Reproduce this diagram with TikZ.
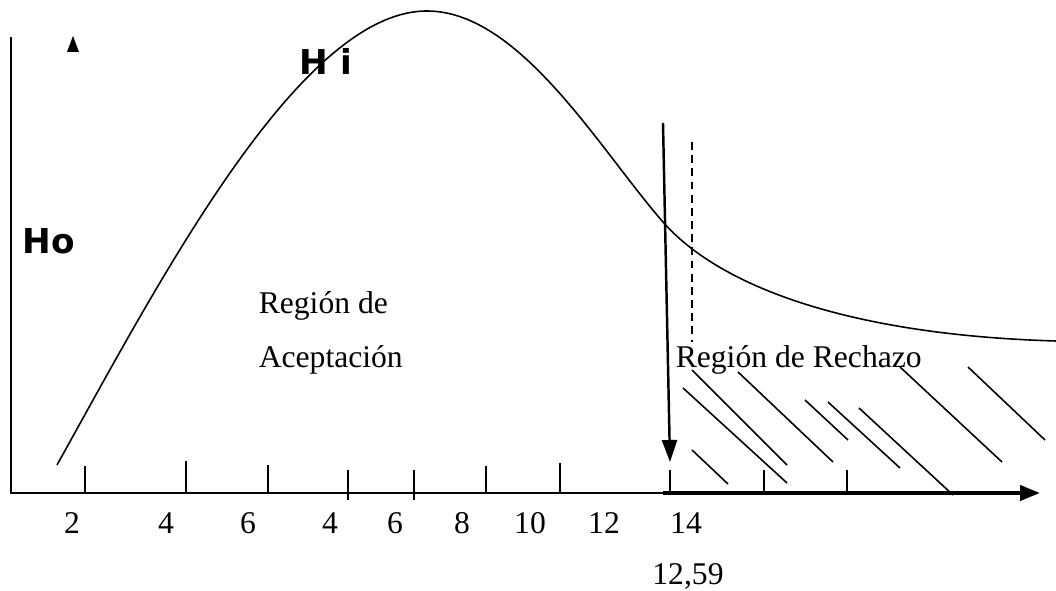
\documentclass[tikz,border=0pt]{standalone}
\usepackage{fontspec}
\setmainfont{Liberation Serif}
\newfontfamily\hypfont{DejaVu Sans}
\usetikzlibrary{arrows.meta}

\begin{document}
\begin{tikzpicture}[x=0.02cm, y=-0.02cm, line width=0.9pt,
  lbl/.style={font=\fontsize{18}{22}\selectfont, inner sep=0pt},
  hyp/.style={font=\hypfont\bfseries\fontsize{19.5}{23}\selectfont, inner sep=0pt}]
\useasboundingbox (0,0) rectangle (1056,591);
% axes
\draw (11,37) -- (11,493) -- (665,493);
\draw[line width=2.3pt, -{Triangle[length=0.4cm, width=0.3cm]}] (663,493) -- (1040,493);
\fill (73,36) -- (67,52) -- (79,52) -- cycle;
% ticks
\draw (85,466) -- (85,493);
\draw (186,461) -- (186,493);
\draw (268,465) -- (268,493);
\draw (348,470) -- (348,500);
\draw (414,470) -- (414,500);
\draw (486,466) -- (486,493);
\draw (560,463) -- (560,493);
\draw (670,470) -- (670,493);
\draw (764,470) -- (764,493);
\draw (847,470) -- (847,493);
% curve
\draw (57,465) .. controls (160,280) and (300,11) .. (427,11)
  .. controls (520,11) and (600,150) .. (663,222)
  .. controls (720,287) and (850,335) .. (1056,341);
\draw[line width=1.4pt, -{Triangle[length=0.44cm, width=0.3cm]}] (663,123) -- (670,462);
\draw[dashed, dash pattern=on 4.5pt off 3pt] (692,142) -- (692,342);
% hatching
\draw (692,370) -- (787,465);
\draw (683,388) -- (787,483);
\draw (692,450) -- (728,484);
\draw (738,372) -- (833,462);
\draw (805,400) -- (848,440);
\draw (828,402) -- (900,468);
\draw (859,408) -- (953,495);
\draw (900,367) -- (1002,462);
\draw (968,367) -- (1045,440);
% labels
\node[hyp] (ho) at (49,241) {Ho};
\node[hyp] (hi) at (326,61) {H i};
\node[lbl, anchor=west] (acep1) at (258,306) {Región de};
\node[lbl, anchor=west] (acep2) at (258,360) {Aceptación};
\node[lbl, anchor=west] (rech) at (675,360) {Región de Rechazo};
\node[lbl] (crit) at (688,576) {12,59};
\node[lbl] (x1) at (72,523) {2};
\node[lbl] (x2) at (166,523) {4};
\node[lbl] (x3) at (248,523) {6};
\node[lbl] (x4) at (330,523) {4};
\node[lbl] (x5) at (395,523) {6};
\node[lbl] (x6) at (462,523) {8};
\node[lbl] (x7) at (530,523) {10};
\node[lbl] (x8) at (604,523) {12};
\node[lbl] (x9) at (686,523) {14};
\end{tikzpicture}
\end{document}
